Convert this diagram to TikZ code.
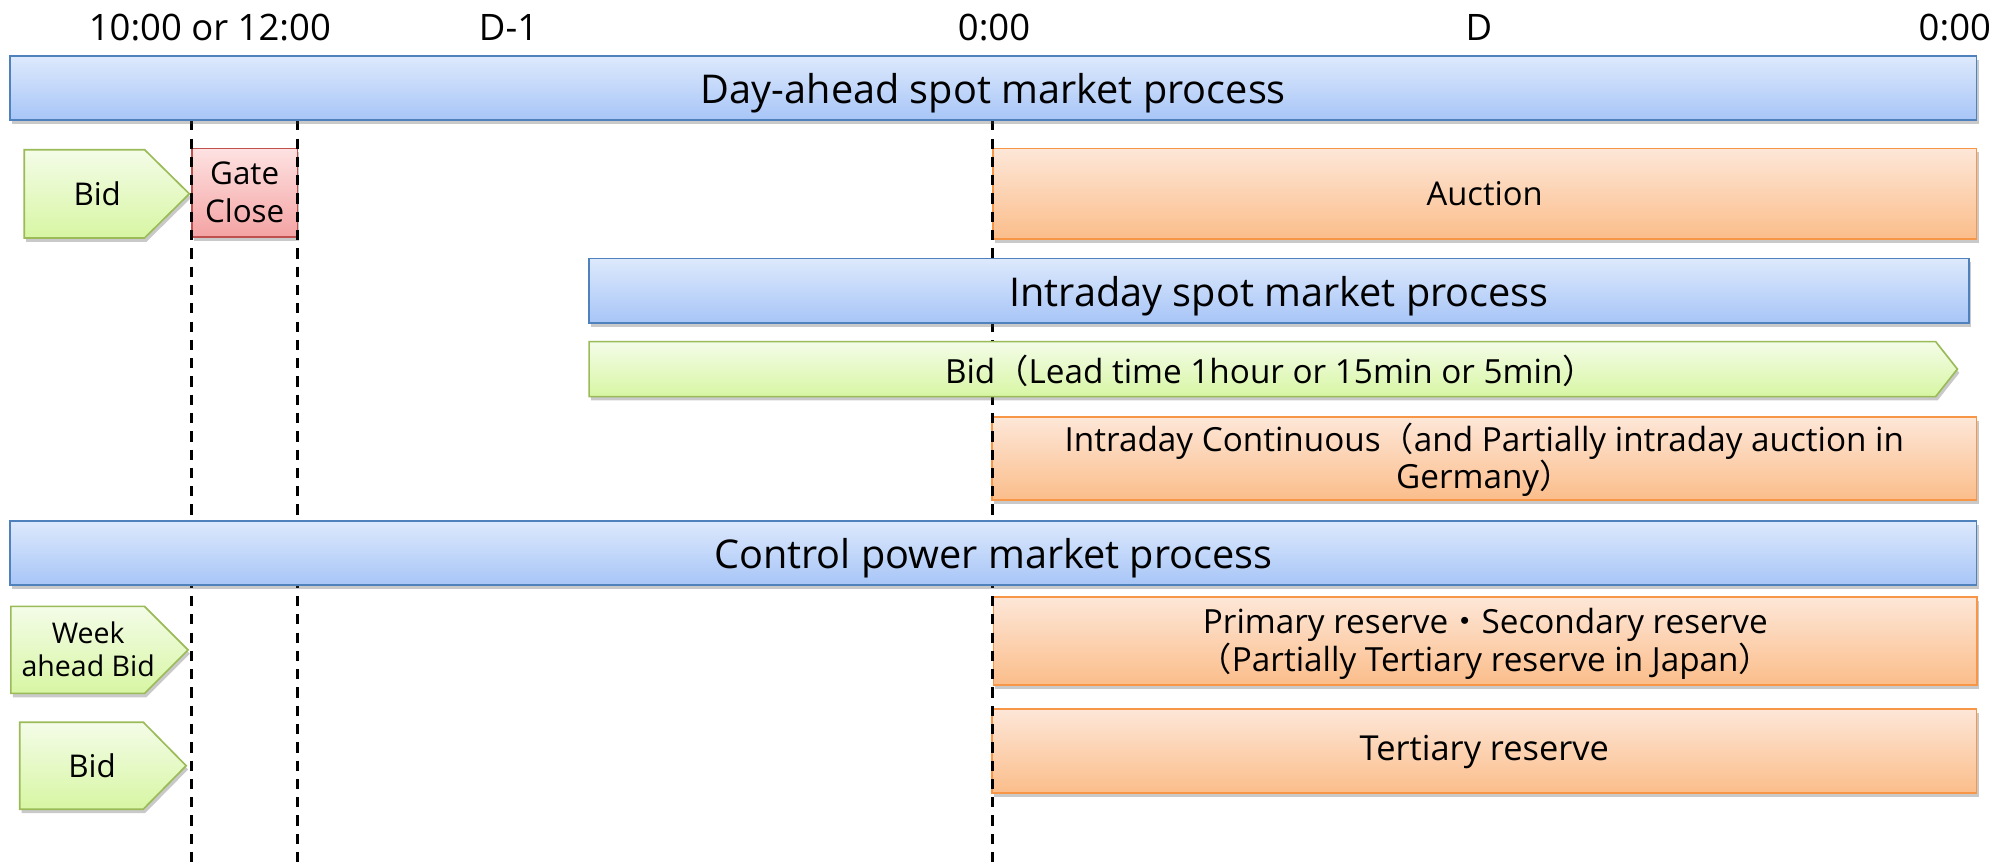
\documentclass[tikz,border=0pt]{standalone}
\usepackage{fontspec}
\setmainfont{Open Sans}
\newfontfamily\cjk{Noto Sans CJK JP}
\usetikzlibrary{shadows}
\definecolor{bluetop}{HTML}{DDE9FC}
\definecolor{bluebot}{HTML}{A7C5F7}
\definecolor{blueline}{HTML}{4F81BD}
\definecolor{orangetop}{HTML}{FDE7D8}
\definecolor{orangebot}{HTML}{FBBD8A}
\definecolor{orangeline}{HTML}{F79646}
\definecolor{greentop}{HTML}{F4FCE8}
\definecolor{greenbot}{HTML}{D7F6A3}
\definecolor{greenline}{HTML}{9BBB59}
\definecolor{redtop}{HTML}{FEE2E2}
\definecolor{redbot}{HTML}{F4A3A3}
\definecolor{redline}{HTML}{C0504D}
\newcommand\ttlfnt{\fontsize{31}{36}\selectfont}
\newcommand\lblfnt{\fontsize{28.5}{33}\selectfont}
\newcommand\midfnt{\fontsize{26}{28.6}\selectfont}
\newcommand\bidfnt{\fontsize{24.5}{29.4}\selectfont}
\newcommand\smlfnt{\fontsize{22.3}{26}\selectfont}
\begin{document}
\begin{tikzpicture}[x=1pt,y=-1pt,
  boxshadow/.style={drop shadow={shadow xshift=1.5pt,shadow yshift=-3pt,opacity=0.3,fill=black!70}},
  boxbase/.style={boxshadow, rectangle, inner sep=0pt, line width=1.3pt},
  bluebar/.style={boxbase, draw=blueline, top color=bluetop, bottom color=bluebot, font=\ttlfnt, text height=24.1pt, text depth=0pt},
  orangebox/.style={boxbase, draw=orangeline, top color=orangetop, bottom color=orangebot, font=\midfnt},
  redbox/.style={boxbase, draw=redline, top color=redtop, bottom color=redbot, font=\bidfnt},
  greenshape/.style={boxshadow, draw=greenline, line width=1.3pt, top color=greentop, bottom color=greenbot},
  lbl/.style={font=\lblfnt, inner sep=0pt, anchor=base},
  txt/.style={inner sep=0pt},
  gridline/.style={line width=2.2pt, dash pattern=on 8pt off 6.3pt}
]
\useasboundingbox (0,0) rectangle (1568,675);

% time labels
\node[lbl] (t1) at (164,31.8) {10:00 or 12:00};
\node[lbl] (t2) at (397.5,31.8) {D-1};
\node[lbl] (t3) at (777,31.8) {0:00};
\node[lbl] (t4) at (1156,31.8) {D};
\node[lbl] (t5) at (1528,31.8) {0:00};

% orange and red boxes
\node[redbox, minimum width=82.5pt, minimum height=69pt, text height=0pt, text depth=11.8pt] (gate) at (191.25,150.5)
  {\parbox[t]{80pt}{\centering\bidfnt Gate\\Close}};
\node[orangebox, minimum width=769pt, minimum height=71pt, font=\fontsize{25.6}{30}\selectfont, text height=18.8pt, text depth=0pt] (auction) at (1160.5,151.5) {Auction};
\node[orangebox, minimum width=769.5pt, minimum height=65pt, text height=0pt, text depth=11pt] (icont) at (1160.25,358.5)
  {\parbox[t]{740pt}{\centering\midfnt Intraday Continuous{\cjk （}and Partially intraday auction in\\Germany{\cjk ）}}};
\node[orangebox, minimum width=769pt, minimum height=69pt, text height=0pt, text depth=12pt] (prim) at (1161,501)
  {\parbox[t]{740pt}{\centering\fontsize{26}{27.5}\selectfont Primary reserve{\cjk ・}Secondary reserve\\{\cjk （}Partially Tertiary reserve in Japan{\cjk ）}}};
\node[orangebox, minimum width=769.5pt, minimum height=66pt, font=\fontsize{26.9}{31}\selectfont, text height=14.7pt, text depth=0pt] (tert) at (1160.25,587) {Tertiary reserve};

% dashed time lines
\coordinate (g1a) at (150,94);   \coordinate (g1b) at (150,675);
\coordinate (g2a) at (232.5,94); \coordinate (g2b) at (232.5,675);
\coordinate (g3a) at (776,94);   \coordinate (g3b) at (776,675);
\draw[gridline] (g1a) -- (g1b);
\draw[gridline] (g2a) -- (g2b);
\draw[gridline] (g3a) -- (g3b);

% blue process bars
\node[bluebar, minimum width=1537pt, minimum height=50pt] (da) at (776.5,69) {Day-ahead spot market process};
\node[bluebar, minimum width=1078.5pt, minimum height=50.5pt] (isp) at (999.75,227.25) {Intraday spot market process};
\node[bluebar, minimum width=1537pt, minimum height=50.5pt] (cp) at (776.5,432.25) {Control power market process};

% green bid arrows
\path[greenshape] (19,117) -- (113,117) -- (148,151.5) -- (113,186) -- (19,186) -- cycle;
\node[txt, font=\bidfnt, text height=18.6pt, text depth=0pt] (bid1) at (76,151.5) {Bid};
\path[greenshape] (460.5,267) -- (1513,267) -- (1530,288.5) -- (1513,310) -- (460.5,310) -- cycle;
\node[txt, font=\midfnt, text height=22.2pt, text depth=0pt] (bidlong) at (993,288.5) {Bid{\cjk （}Lead time 1hour or 15min or 5min{\cjk ）}};
\path[greenshape] (8.5,474) -- (113,474) -- (147,508) -- (113,542) -- (8.5,542) -- cycle;
\node[txt, text height=0pt, text depth=10.2pt] (week) at (69,508) {\parbox[t]{140pt}{\centering\smlfnt Week\\ahead Bid}};
\path[greenshape] (15.5,564.5) -- (112,564.5) -- (145.5,598.5) -- (112,632.5) -- (15.5,632.5) -- cycle;
\node[txt, font=\bidfnt, text height=18.2pt, text depth=0pt] (bid2) at (72,598.5) {Bid};
\end{tikzpicture}
\end{document}
